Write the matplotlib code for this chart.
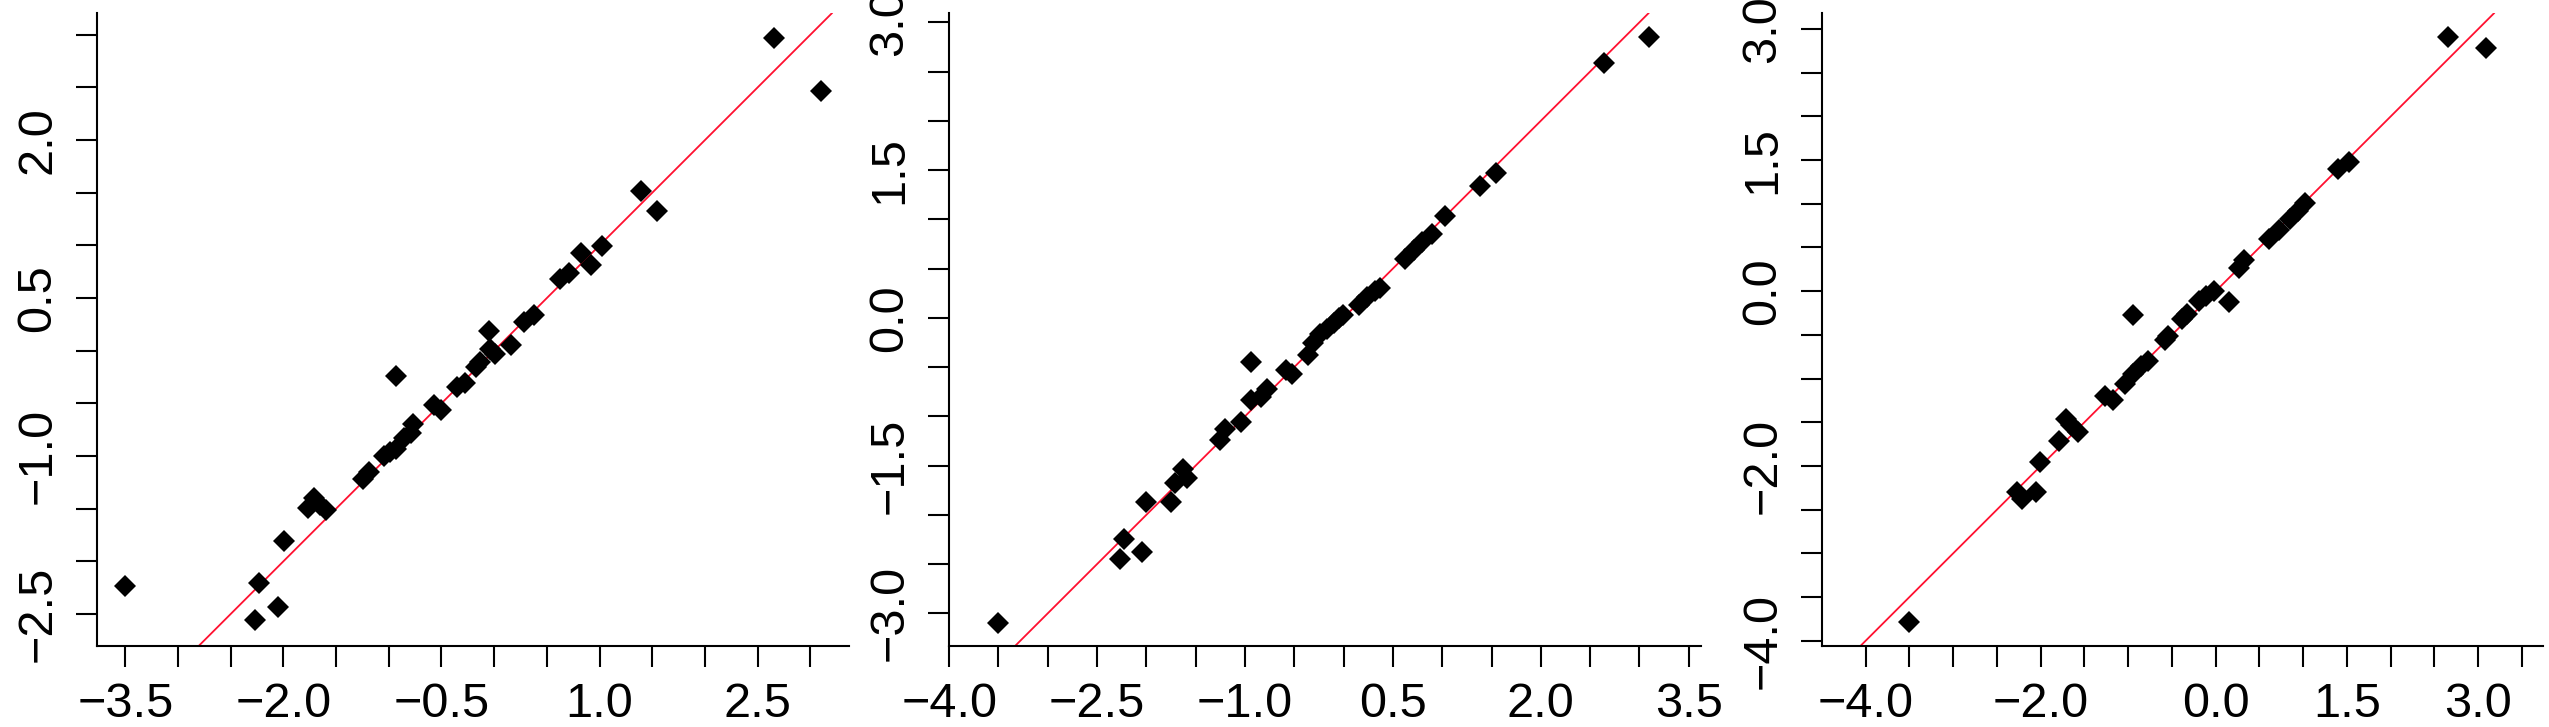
import matplotlib
matplotlib.use("Agg")
import matplotlib.pyplot as plt
import numpy as np

plt.rcParams['font.family'] = ['Liberation Sans', 'DejaVu Sans']

# ---- data ----
x1 = [-3.50, -2.267, -2.231, -2.051, -1.994, -1.768, -1.712, -1.65, -1.599, -1.249,
      -1.188, -1.044, -0.992, -0.931, -0.931, -0.854, -0.787, -0.766, -0.571, -0.509,
      -0.355, -0.273, -0.175, -0.134, -0.047, -0.042, 0.004, 0.159, 0.287, 0.380,
      0.621, 0.714, 0.827, 0.919, 1.022, 1.392, 1.546, 2.651, 3.103]
y1 = [-2.236, -2.557, -2.205, -2.434, -1.804, -1.495, -1.398, -1.465, -1.509, -1.222,
      -1.156, -1.002, -0.958, -0.936, -0.239, -0.826, -0.781, -0.693, -0.517, -0.561,
      -0.341, -0.310, -0.151, -0.107, 0.188, 0.012, -0.032, 0.056, 0.276, 0.342,
      0.682, 0.739, 0.924, 0.814, 0.995, 1.519, 1.325, 2.965, 2.467]

x2 = [-3.505, -2.269, -2.231, -2.049, -2.0, -1.753, -1.709, -1.626, -1.588, -1.258,
      -1.203, -1.038, -0.940, -0.940, -0.841, -0.775, -0.582, -0.527, -0.363, -0.308,
      -0.236, -0.170, -0.099, -0.044, -0.005, 0.159, 0.242, 0.313, 0.368, 0.626,
      0.709, 0.791, 0.901, 1.027, 1.379, 1.544, 2.643, 3.099]
y2 = [-3.095, -2.45, -2.247, -2.379, -1.870, -1.870, -1.673, -1.531, -1.626, -1.239,
      -1.131, -1.060, -0.448, -0.834, -0.801, -0.721, -0.533, -0.566, -0.377, -0.260,
      -0.165, -0.109, -0.048, 0.0, 0.033, 0.127, 0.211, 0.268, 0.306, 0.598,
      0.683, 0.767, 0.847, 1.036, 1.342, 1.474, 2.590, 2.849]

x3 = [-3.506, -2.27, -2.209, -2.054, -2.005, -1.795, -1.715, -1.653, -1.579, -1.264,
      -1.177, -1.035, -0.943, -0.943, -0.850, -0.770, -0.584, -0.541, -0.387, -0.325,
      -0.189, -0.109, -0.016, 0.157, 0.262, 0.324, 0.614, 0.725, 0.849, 0.941,
      1.022, 1.392, 1.528, 2.652, 3.085]
y3 = [-3.783, -2.30, -2.384, -2.30, -1.955, -1.716, -1.467, -1.536, -1.610, -1.202,
      -1.240, -1.059, -0.275, -0.953, -0.858, -0.794, -0.556, -0.514, -0.317, -0.264,
      -0.116, -0.052, 0.0, -0.127, 0.265, 0.361, 0.599, 0.705, 0.827, 0.917,
      1.007, 1.394, 1.474, 2.905, 2.783]

xticks1 = [-3.5, -3.0, -2.5, -2.0, -1.5, -1.0, -0.5, 0.0, 0.5, 1.0, 1.5, 2.0, 2.5, 3.0]
xlabels1 = ["−3.5", "", "", "−2.0", "", "", "−0.5", "", "", "1.0", "", "", "2.5", ""]
yticks1 = [-2.5, -2.0, -1.5, -1.0, -0.5, 0.0, 0.5, 1.0, 1.5, 2.0, 2.5, 3.0]
ylabels1 = ["−2.5", "", "", "−1.0", "", "", "0.5", "", "", "2.0", "", ""]

xticks2 = [-4.0, -3.5, -3.0, -2.5, -2.0, -1.5, -1.0, -0.5, 0.0, 0.5, 1.0, 1.5, 2.0, 2.5, 3.0, 3.5]
xlabels2 = ["−4.0", "", "", "−2.5", "", "", "−1.0", "", "", "0.5", "", "", "2.0", "", "", "3.5"]
yticks2 = [-3.0, -2.5, -2.0, -1.5, -1.0, -0.5, 0.0, 0.5, 1.0, 1.5, 2.0, 2.5, 3.0]
ylabels2 = ["−3.0", "", "", "−1.5", "", "", "0.0", "", "", "1.5", "", "", "3.0"]

xticks3 = [-4.0, -3.5, -3.0, -2.5, -2.0, -1.5, -1.0, -0.5, 0.0, 0.5, 1.0, 1.5, 2.0, 2.5, 3.0, 3.5]
xlabels3 = ["−4.0", "", "", "", "−2.0", "", "", "", "0.0", "", "", "1.5", "", "", "3.0", ""]
yticks3 = [-4.0, -3.5, -3.0, -2.5, -2.0, -1.5, -1.0, -0.5, 0.0, 0.5, 1.0, 1.5, 2.0, 2.5, 3.0]
ylabels3 = ["−4.0", "", "", "", "−2.0", "", "", "", "0.0", "", "", "1.5", "", "", "3.0"]

W, H = 2549, 727
fig = plt.figure(figsize=(W / 100, H / 100), dpi=100)

top_px, bot_px = 13.3, 645.5
panels = [
    dict(l=96.7, r=849.3, xlim=(-3.771, 3.369), ylim=(-2.799, 3.203),
         x=x1, y=y1, xt=xticks1, xl=xlabels1, yt=yticks1, yl=ylabels1),
    dict(l=948.7, r=1701.0, xlim=(-4.005, 3.624), ylim=(-3.327, 3.091),
         x=x2, y=y2, xt=xticks2, xl=xlabels2, yt=yticks2, yl=ylabels2),
    dict(l=1821.7, r=2542.7, xlim=(-4.503, 3.737), ylim=(-4.055, 3.18),
         x=x3, y=y3, xt=xticks3, xl=xlabels3, yt=yticks3, yl=ylabels3),
]

for p in panels:
    ax = fig.add_axes([p['l'] / W, (H - bot_px) / H, (p['r'] - p['l']) / W, (bot_px - top_px) / H])
    ax.set_xlim(*p['xlim'])
    ax.set_ylim(*p['ylim'])
    ax.axline((0, 0), slope=1, color='#ff1030', lw=1.3, zorder=1)
    ax.plot(p['x'], p['y'], linestyle='none', marker='D', markersize=11,
            markeredgewidth=0, color='black', zorder=2)
    for s in ('top', 'right'):
        ax.spines[s].set_visible(False)
    for s in ('left', 'bottom'):
        ax.spines[s].set_linewidth(1.5)
    ax.set_xticks(p['xt'])
    ax.set_xticklabels(p['xl'])
    ax.set_yticks(p['yt'])
    ax.set_yticklabels(p['yl'], rotation=90, va='center')
    ax.tick_params(axis='both', direction='out', length=15, width=1.5,
                   labelsize=35, pad=11, colors='black')
    ax.set_facecolor('white')

fig.savefig("out.png", dpi=100, facecolor='white')
